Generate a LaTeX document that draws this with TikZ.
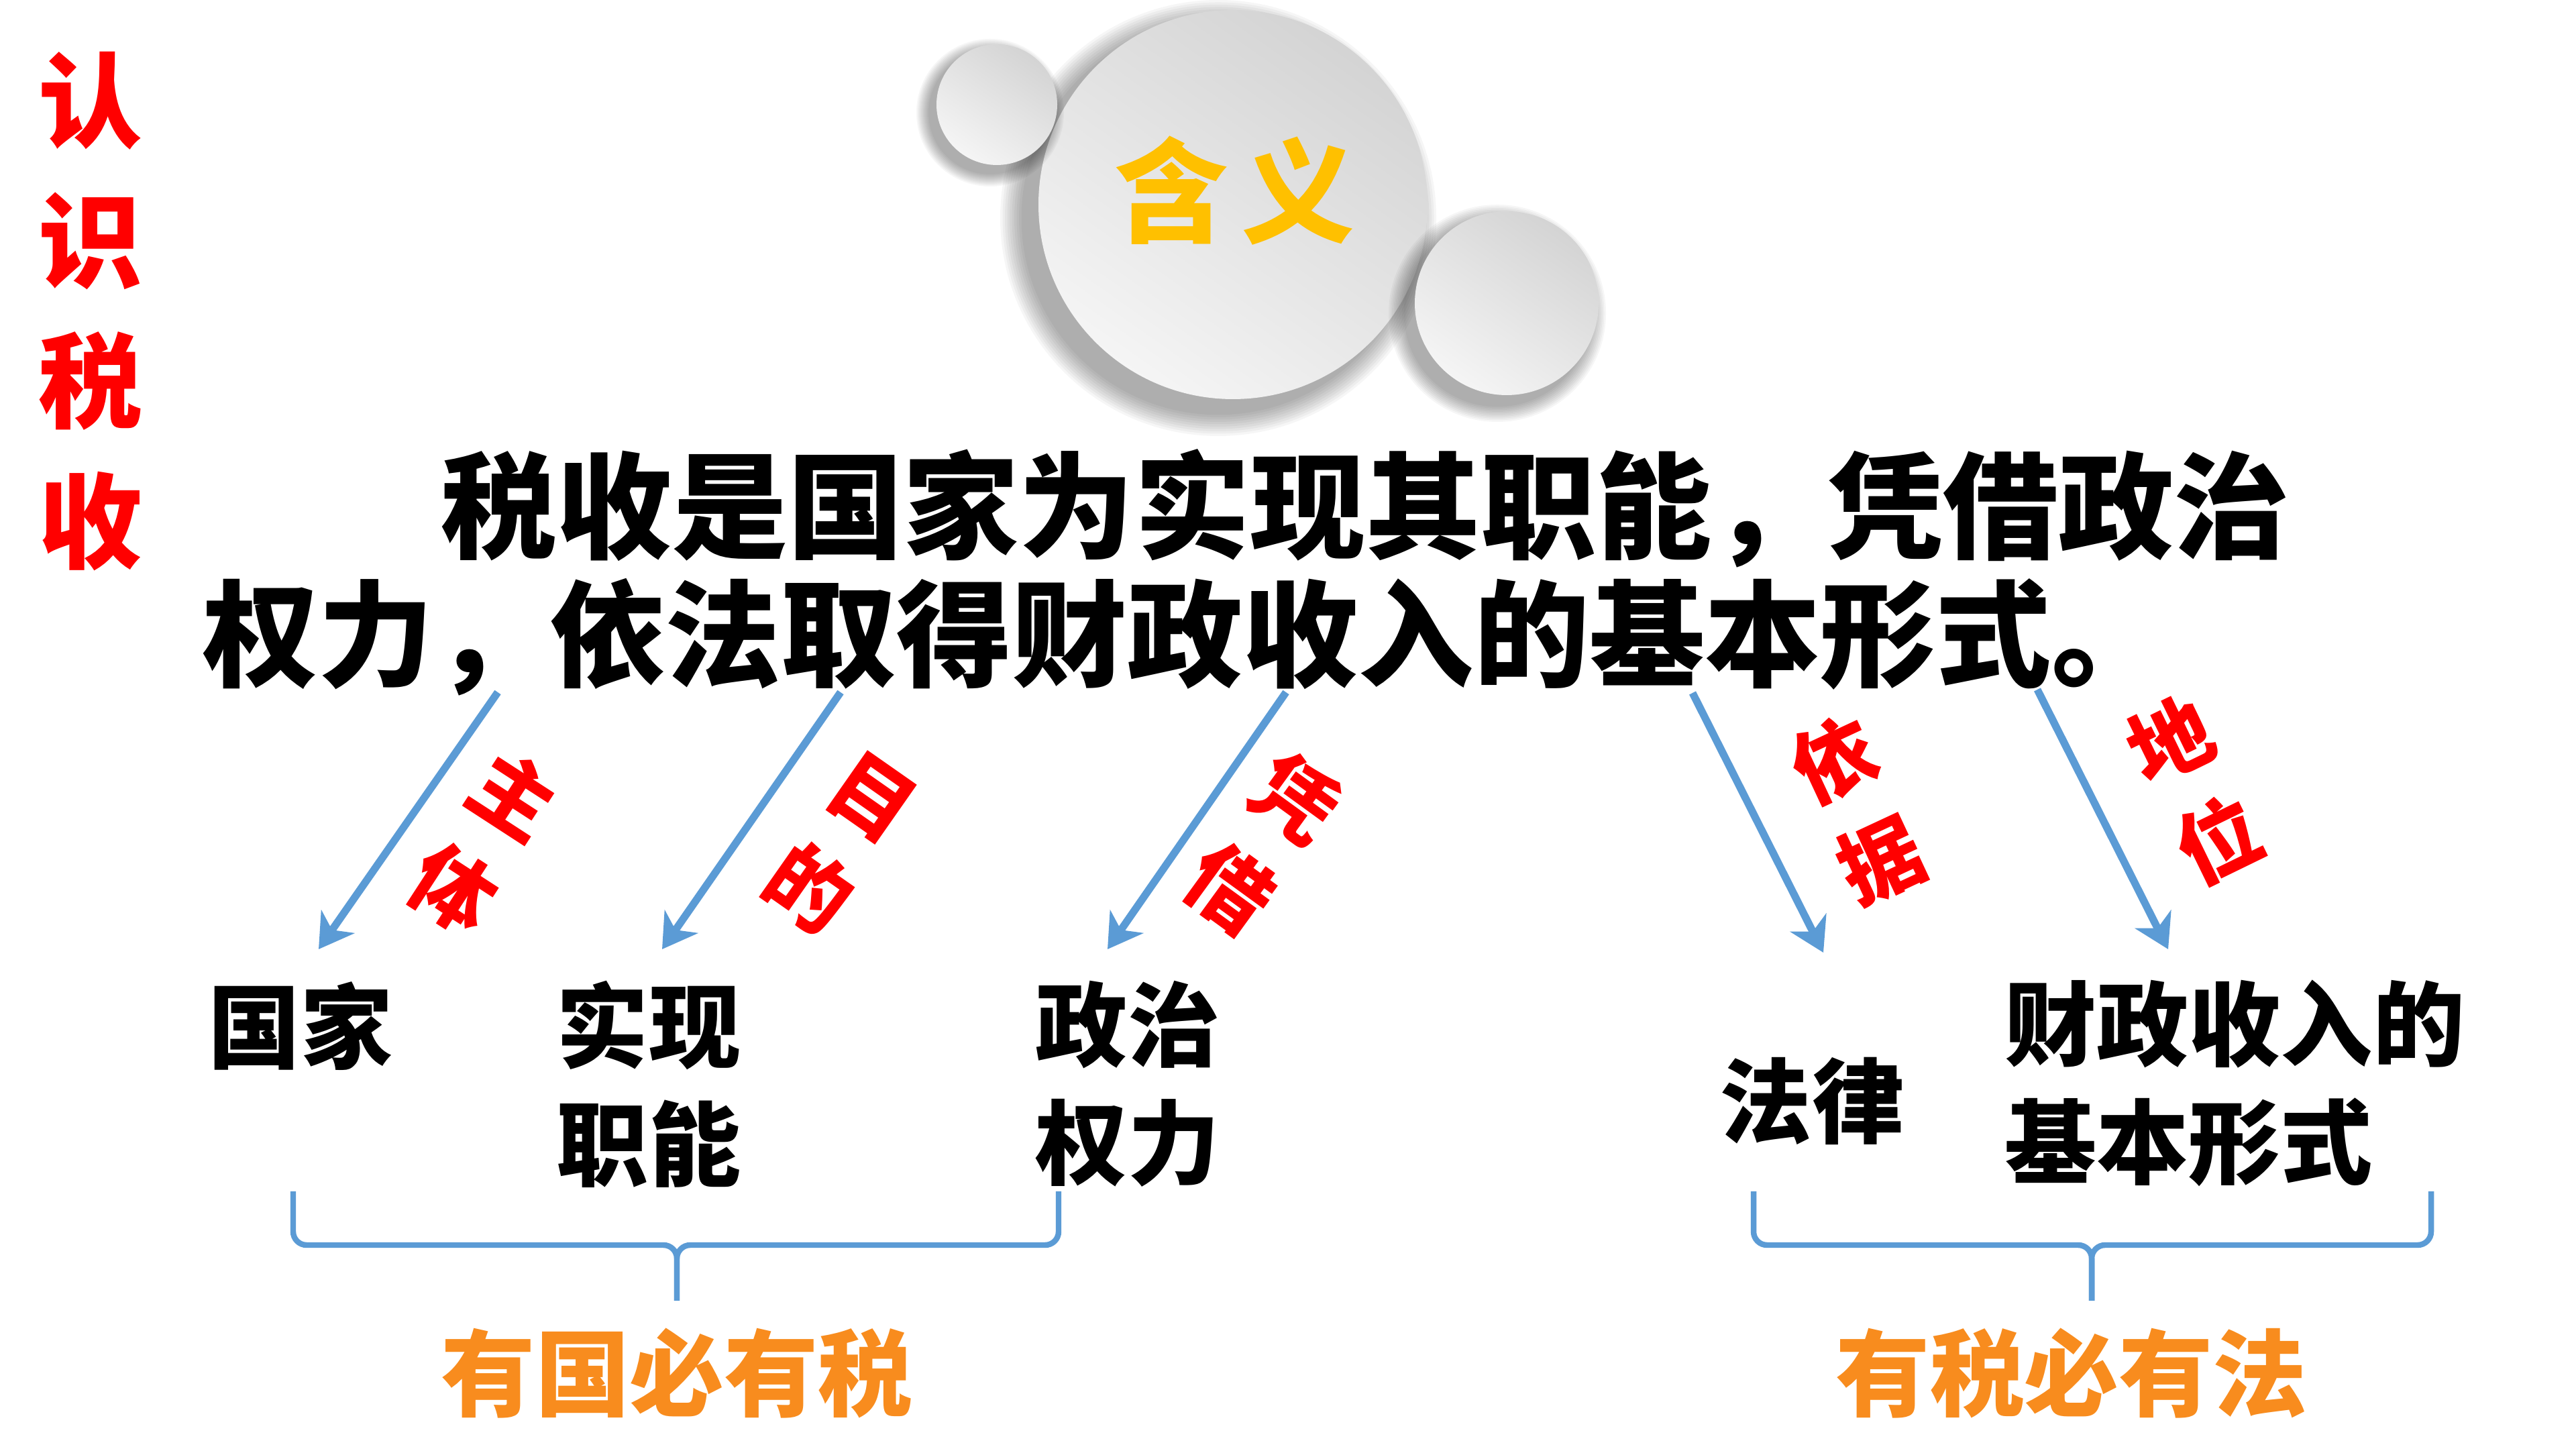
\documentclass[tikz,border=0pt]{standalone}
\usepackage{fontspec}
\newfontfamily\cjk{Noto Sans CJK SC}
\usetikzlibrary{arrows.meta}
\usetikzlibrary{positioning}
\usetikzlibrary{calc}

\definecolor{arrowblue}{RGB}{91,155,213}
\definecolor{tagred}{RGB}{255,0,0}
\definecolor{goldtext}{RGB}{255,192,0}
\definecolor{orangetext}{RGB}{248,140,30}

\begin{document}
\begin{tikzpicture}[
    disc/.style={top color=black!17, bottom color=black!4, shading angle=-35},
    redtag/.style={font=\cjk\bfseries\fontsize{35}{47}\selectfont, text=tagred, align=center, inner sep=0pt},
    bottomtext/.style={font=\cjk\bfseries\fontsize{39}{50}\selectfont, align=center, inner sep=0pt},
    maintext/.style={font=\cjk\bfseries\fontsize{49}{60}\selectfont, anchor=west, inner sep=0pt},
    motto/.style={font=\cjk\bfseries\fontsize{40}{48}\selectfont, text=orangetext, inner sep=0pt},
    arr/.style={line width=3.2pt, arrowblue, -{Stealth[length=5mm,width=6mm,inset=1.5mm]}},
    brace/.style={line width=2.4pt, arrowblue, rounded corners=2mm}
]
    \useasboundingbox (0,0) rectangle (38.4,21.6);
    \fill[white] (0,0) rectangle (38.4,21.6);

    % title on the left
    \node[font=\cjk\bfseries\fontsize{44}{59.5}\selectfont, text=tagred, align=center, inner sep=0pt] (title) at (1.35,16.96) {认\\识\\税\\收};

    % discs with shadows
    \coordinate (bigc) at (18.38,18.55);
    \coordinate (leftc) at (14.86,20.04);
    \coordinate (rightc) at (22.46,17.08);
    \foreach \k in {1,...,10}
        \fill[black, opacity=0.035] ($(bigc)+(-0.22,-0.2)$) circle ({2.9+0.035*\k});
    \shade[disc] (bigc) circle (2.9);
    \foreach \k in {1,...,10}
        \fill[black, opacity=0.035] ($(leftc)+(-0.1,-0.12)$) circle ({0.9+0.02*\k});
    \shade[disc] (leftc) circle (0.9);
    \foreach \k in {1,...,10}
        \fill[black, opacity=0.035] ($(rightc)+(-0.14,-0.15)$) circle ({1.37+0.025*\k});
    \shade[disc] (rightc) circle (1.37);
    \node[font=\cjk\bfseries\fontsize{48}{48}\selectfont, text=goldtext, inner sep=0pt] (meaning) at (18.41,18.76) {含\hspace{0.12em}义};

    % definition
    \node[maintext] (line1) at (6.57,14.02) {税收是国家为实现其职能，凭借政治};
    \node[maintext] (line2) at (3.02,12.1) {权力，依法取得财政收入的基本形式。};

    % arrows
    \coordinate (s1) at (7.42,11.28);  \coordinate (e1) at (4.75,7.45);
    \coordinate (s2) at (12.53,11.28); \coordinate (e2) at (9.87,7.45);
    \coordinate (s3) at (19.17,11.28); \coordinate (e3) at (16.51,7.45);
    \coordinate (s4) at (25.23,11.27); \coordinate (e4) at (27.18,7.40);
    \coordinate (s5) at (30.37,11.32); \coordinate (e5) at (32.32,7.45);
    \draw[arr] (s1) -- (e1);
    \draw[arr] (s2) -- (e2);
    \draw[arr] (s3) -- (e3);
    \draw[arr] (s4) -- (e4);
    \draw[arr] (s5) -- (e5);

    % arrow labels
    \node[redtag, rotate=-33] (subject) at (7.21,9.05) {主\\体};
    \node[redtag, rotate=-35] (aim) at (12.52,9.02) {目\\的};
    \node[redtag, rotate=-36] (means) at (18.82,9.03) {凭\\借};
    \node[redtag, rotate=25] (basis) at (27.68,9.53) {依\\据};
    \node[redtag, rotate=26] (status) at (32.71,9.82) {地\\位};

    % the five parts
    \node[bottomtext] (state) at (4.48,6.30) {国家};
    \node[bottomtext] (function) at (9.67,5.44) {实现\\职能};
    \node[bottomtext] (power) at (16.81,5.44) {政治\\权力};
    \node[bottomtext] (law) at (27.01,5.19) {法律};
    \node[bottomtext, align=left, anchor=west] (form) at (29.88,5.45) {财政收入的\\基本形式};

    % braces
    \coordinate (lbl) at (4.37,3.84);  \coordinate (lbr) at (15.78,3.84);
    \coordinate (lmid) at (10.09,3.04); \coordinate (ltip) at (10.09,2.21);
    \coordinate (rbl) at (26.14,3.84); \coordinate (rbr) at (36.24,3.84);
    \coordinate (rmid) at (31.18,3.04); \coordinate (rtip) at (31.18,2.21);
    \draw[brace] (lbl) |- (lmid) -- (ltip);
    \draw[brace] (lbr) |- (lmid) -- (ltip);
    \draw[brace] (rbl) |- (rmid) -- (rtip);
    \draw[brace] (rbr) |- (rmid) -- (rtip);

    \node[motto, below=0.4cm of ltip] (statetax) {有国必有税};
    \node[motto, below=0.4cm of rtip, xshift=-0.3cm] (taxlaw) {有税必有法};
\end{tikzpicture}
\end{document}
